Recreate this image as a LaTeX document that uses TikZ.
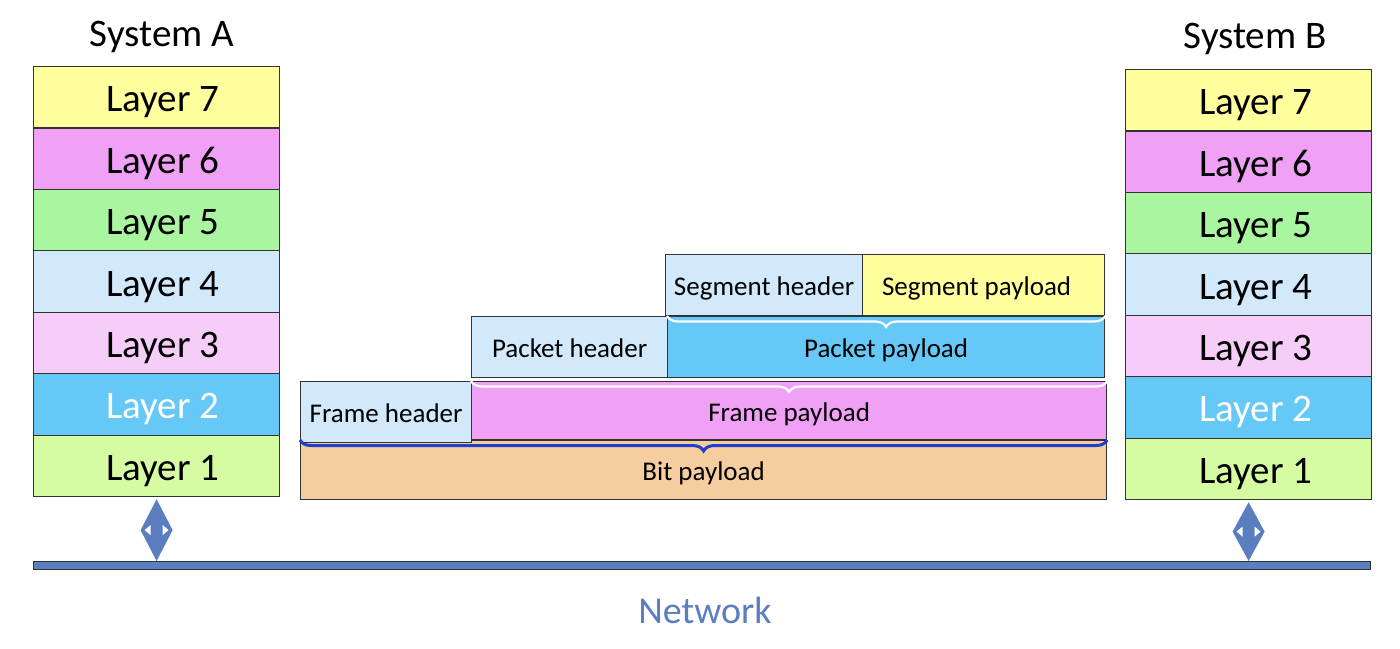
\documentclass[tikz,border=0pt]{standalone}
\usepackage{fontspec}
\setmainfont{Carlito}
\usetikzlibrary{decorations.pathreplacing,calc}
\definecolor{cL7}{HTML}{FFFF9E}
\definecolor{cL6}{HTML}{F0A0F5}
\definecolor{cL5}{HTML}{AAF5A0}
\definecolor{cL4}{HTML}{D2E9FB}
\definecolor{cL3}{HTML}{F6CCF9}
\definecolor{cL2}{HTML}{66C8F7}
\definecolor{cL1}{HTML}{D6FCA3}
\definecolor{cBit}{HTML}{F6CD9F}
\definecolor{netblue}{HTML}{5A7EBF}
\definecolor{bracefill}{HTML}{1F3FCC}
\begin{document}
\begin{tikzpicture}[x=1pt,y=-1pt,
  box/.style={draw=black!80, line width=1.2pt, inner sep=0pt, anchor=north west, text depth=0pt},
  lay/.style={box, minimum width=246pt, minimum height=61.43pt, text height=29pt, font=\fontsize{39}{44}\selectfont},
  mid/.style={box, text height=21pt, font=\fontsize{27}{32}\selectfont},
  wbrace/.style={draw=white, line width=2.2pt, decorate, decoration={brace, amplitude=11pt}},
  bbrace/.style={draw=bracefill, line width=3pt, decorate, decoration={brace, amplitude=11pt}},
  big/.style={font=\fontsize{39}{44}\selectfont}]
\useasboundingbox (0,0) rectangle (1400,648);

% System labels
\node[big] (sysA) at (162,37) {System A};
\node[big] (sysB) at (1255,39) {System B};

% Stacks
\foreach \n/\c/\i/\t in {7/cL7/0/black,6/cL6/1/black,5/cL5/2/black,4/cL4/3/black,3/cL3/4/black,2/cL2/5/white,1/cL1/6/black} {
  \node[lay, fill=\c, text=\t] (A\n) at (33, 66+61.43*\i) {\hspace*{12pt}Layer \n};
  \node[lay, fill=\c, text=\t] (B\n) at (1125, 69+61.43*\i) {\hspace*{14pt}Layer \n};
}

% Middle encapsulation
\node[mid, fill=cBit, minimum width=806pt, minimum height=59pt] (bp) at (300,440) {Bit payload};
\node[mid, fill=cL6, minimum width=635pt, minimum height=58pt] (fp) at (471,381) {Frame payload};
\node[mid, fill=cL4, minimum width=171pt, minimum height=61pt] (fh) at (300,381) {Frame header};
\node[mid, fill=cL2, minimum width=437pt, minimum height=61pt] (pp) at (667,316) {Packet payload};
\node[mid, fill=cL4, minimum width=196pt, minimum height=61pt] (ph) at (471,316) {Packet header};
\node[mid, fill=cL7, minimum width=242pt, minimum height=61pt] (sp) at (862,254) {Segment payload\hspace*{14pt}};
\node[mid, fill=cL4, minimum width=197pt, minimum height=61pt] (sh) at (665,254) {Segment header};

% Braces
\draw[wbrace] (pp.north east) -- (pp.north west);
\draw[wbrace] (fp.north east) -- (fp.north west);
\draw[bbrace] (bp.north east) -- (bp.north west);

% Network
\node[draw=black!80, line width=1.2pt, fill=netblue, minimum width=1337pt, minimum height=8pt, inner sep=0pt, anchor=north west] (net) at (33,561) {};
\node[text=netblue, font=\fontsize{38}{44}\selectfont] (netlbl) at (705,610) {Network};

% Double arrows (diamonds)
\foreach \s in {A,B} {
  \coordinate (\s top) at ($(\s1.south)+(0,2)$);
  \coordinate (\s bot) at (\s1.south |- net.north);
  \coordinate (\s mid) at ($(\s top)!0.5!(\s bot)$);
  \fill[netblue] (\s top) -- ($(\s mid)+(16,0)$) -- (\s bot) -- ($(\s mid)+(-16,0)$) -- cycle;
  \fill[white] ($(\s mid)+(-12,0)$) -- ($(\s mid)+(-6,-5)$) -- ($(\s mid)+(-6,5)$) -- cycle;
  \fill[white] ($(\s mid)+(12,0)$) -- ($(\s mid)+(6,-5)$) -- ($(\s mid)+(6,5)$) -- cycle;
}
\end{tikzpicture}
\end{document}
